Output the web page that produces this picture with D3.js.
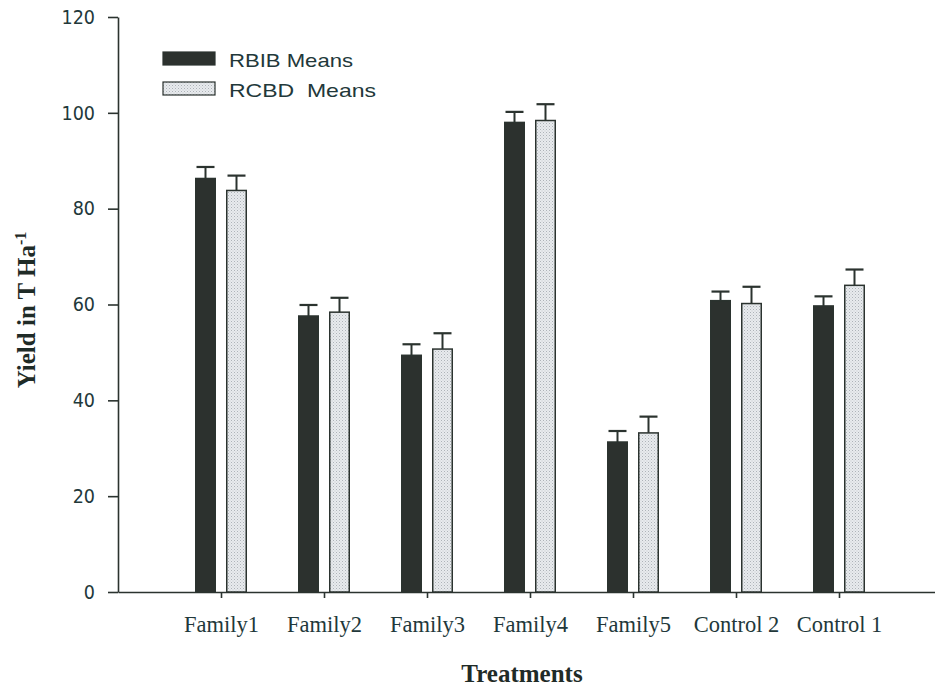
<!DOCTYPE html>
<html>
<head>
<meta charset="utf-8">
<script src="https://cdn.jsdelivr.net/npm/d3@7"></script>
<style>
  html, body { margin: 0; padding: 0; background: #ffffff; }
  svg { display: block; }
</style>
</head>
<body>
<div id="diagram"></div>
<script>
// data
const treatments = ['Family1', 'Family2', 'Family3', 'Family4', 'Family5', 'Control 2', 'Control 1'];
const seriesNames = ['RBIB Means', 'RCBD  Means'];
const rbibMeans = [86.3, 57.6, 49.4, 98.0, 31.3, 60.8, 59.7];
const rbibErrors = [2.4, 2.3, 2.3, 2.2, 2.3, 1.9, 2.0];
const rcbdMeans = [83.8, 58.4, 50.7, 98.4, 33.2, 60.2, 64.0];
const rcbdErrors = [3.1, 3.0, 3.3, 3.4, 3.4, 3.5, 3.3];
const yTicks = [0, 20, 40, 60, 80, 100, 120];

!(function () {
  'use strict';
  // - - - - - - - - - -
  // declaration
  let
    canvas = undefined,
    svg = undefined,
    xScale = undefined,
    yScale = undefined,
    ink = '#2b332f',
    dark = '#2c312e',

    setCanvas = undefined,
    setPattern = undefined,
    setScales = undefined,
    setYAxis = undefined,
    setXAxis = undefined,
    setBars = undefined,
    setLegend = undefined,
    setTitles = undefined;

  canvas = {
    width: 935,
    height: 689,
    padding: { top: 17, left: 118, bottom: 97 }
  };

  // methods
  setCanvas = function (contextSelector) {
    svg = d3.select(contextSelector)
      .append('svg')
      .attr('width', canvas.width)
      .attr('height', canvas.height)
      .attr('viewBox', '0 0 ' + canvas.width + ' ' + canvas.height);
  };

  setPattern = function () {
    let p = svg.append('defs').append('pattern')
      .attr('id', 'stipple')
      .attr('patternUnits', 'userSpaceOnUse')
      .attr('width', 3)
      .attr('height', 3);
    p.append('rect').attr('width', 3).attr('height', 3).attr('fill', '#e8ebee');
    p.append('rect').attr('width', 1).attr('height', 1).attr('fill', '#aeb3b8');
    p.append('rect').attr('x', 1.5).attr('y', 1.5).attr('width', 1).attr('height', 1).attr('fill', '#c4c8cc');
  };

  setScales = function () {
    // positions 1..7 on a 0..8 axis, as the original plot
    xScale = d3.scaleLinear()
      .domain([0, treatments.length + 1])
      .range([canvas.padding.left, canvas.padding.left + 103 * (treatments.length + 1)]);
    yScale = d3.scaleLinear()
      .domain([0, 120])
      .range([canvas.height - canvas.padding.bottom, canvas.padding.top]);
  };

  setYAxis = function () {
    let g = svg.append('g')
      .attr('transform', 'translate(' + canvas.padding.left + ', 0)')
      .call(d3.axisLeft(yScale).tickValues(yTicks).tickSize(10).tickSizeOuter(0).tickPadding(13));
    g.selectAll('path, line').attr('stroke', ink).attr('stroke-width', 1.6);
    g.selectAll('text')
      .attr('fill', '#22383a')
      .style('font-family', '"DejaVu Sans Condensed", "DejaVu Sans", Verdana, sans-serif')
      .style('font-size', '19.5px');
  };

  setXAxis = function () {
    let g = svg.append('g')
      .attr('transform', 'translate(0, ' + yScale(0) + ')')
      .call(d3.axisBottom(xScale)
        .tickValues(d3.range(1, treatments.length + 1))
        .tickFormat(function (d) { return treatments[d - 1]; })
        .tickSize(6).tickSizeOuter(0).tickPadding(18));
    g.selectAll('path, line').attr('stroke', ink).attr('stroke-width', 1.6);
    g.selectAll('text')
      .attr('fill', '#22383a')
      .style('font-family', '"Liberation Serif", "Times New Roman", serif')
      .style('font-size', '22.5px');
  };

  setBars = function () {
    let groups = [
      { means: rbibMeans, errs: rbibErrors, dx: -15.5, fill: dark },
      { means: rcbdMeans, errs: rcbdErrors, dx: 15.5, fill: 'url(#stipple)' }
    ];
    let bw = 19.5, cap = 18;

    groups.forEach(function (s) {
      let g = svg.append('g');
      let rows = treatments.map(function (t, i) { return { i: i, v: s.means[i], e: s.errs[i] }; });

      // error bars (upper only)
      g.selectAll('line.err').data(rows).enter().append('line')
        .attr('x1', function (d) { return xScale(d.i + 1) + s.dx; })
        .attr('x2', function (d) { return xScale(d.i + 1) + s.dx; })
        .attr('y1', function (d) { return yScale(d.v); })
        .attr('y2', function (d) { return yScale(d.v + d.e); })
        .attr('stroke', ink).attr('stroke-width', 2);
      g.selectAll('line.cap').data(rows).enter().append('line')
        .attr('x1', function (d) { return xScale(d.i + 1) + s.dx - cap / 2; })
        .attr('x2', function (d) { return xScale(d.i + 1) + s.dx + cap / 2; })
        .attr('y1', function (d) { return yScale(d.v + d.e); })
        .attr('y2', function (d) { return yScale(d.v + d.e); })
        .attr('stroke', ink).attr('stroke-width', 2.2);

      g.selectAll('rect').data(rows).enter().append('rect')
        .attr('x', function (d) { return xScale(d.i + 1) + s.dx - bw / 2; })
        .attr('y', function (d) { return yScale(d.v); })
        .attr('width', bw)
        .attr('height', function (d) { return yScale(0) - yScale(d.v); })
        .attr('fill', s.fill)
        .attr('stroke', ink)
        .attr('stroke-width', 1.5);
    });
  };

  setLegend = function () {
    let fills = [dark, 'url(#stipple)'];
    let widths = [124, 147];
    let g = svg.append('g').attr('transform', 'translate(163, 52)');
    seriesNames.forEach(function (name, i) {
      g.append('rect')
        .attr('x', 0).attr('y', i * 30)
        .attr('width', 52).attr('height', 13)
        .attr('fill', fills[i])
        .attr('stroke', ink).attr('stroke-width', 1.2);
      g.append('text')
        .attr('x', 66).attr('y', i * 30 + 15)
        .attr('fill', '#22383a')
        .attr('textLength', widths[i])
        .attr('lengthAdjust', 'spacingAndGlyphs')
        .style('font-family', '"Liberation Sans", Arial, sans-serif')
        .style('font-size', '19px')
        .style('white-space', 'pre')
        .text(name);
    });
  };

  setTitles = function () {
    svg.append('text')
      .attr('x', 522).attr('y', 682)
      .attr('text-anchor', 'middle')
      .attr('fill', '#1f2b27')
      .style('font-family', '"Liberation Serif", "Times New Roman", serif')
      .style('font-weight', 'bold')
      .style('font-size', '25px')
      .text('Treatments');

    let t = svg.append('text')
      .attr('transform', 'translate(35, 310) rotate(-90)')
      .attr('text-anchor', 'middle')
      .attr('fill', '#1f2b27')
      .style('font-family', '"Liberation Serif", "Times New Roman", serif')
      .style('font-weight', 'bold')
      .style('font-size', '25px');
    t.append('tspan').text('Yield in T Ha');
    t.append('tspan').attr('dy', '-0.55em').style('font-size', '16px').text('-1');
  };

  // control
  setCanvas('#diagram');
  setPattern();
  setScales();
  setYAxis();
  setXAxis();
  setBars();
  setLegend();
  setTitles();
  // - - - - - - - - - -
}());
</script>
</body>
</html>
